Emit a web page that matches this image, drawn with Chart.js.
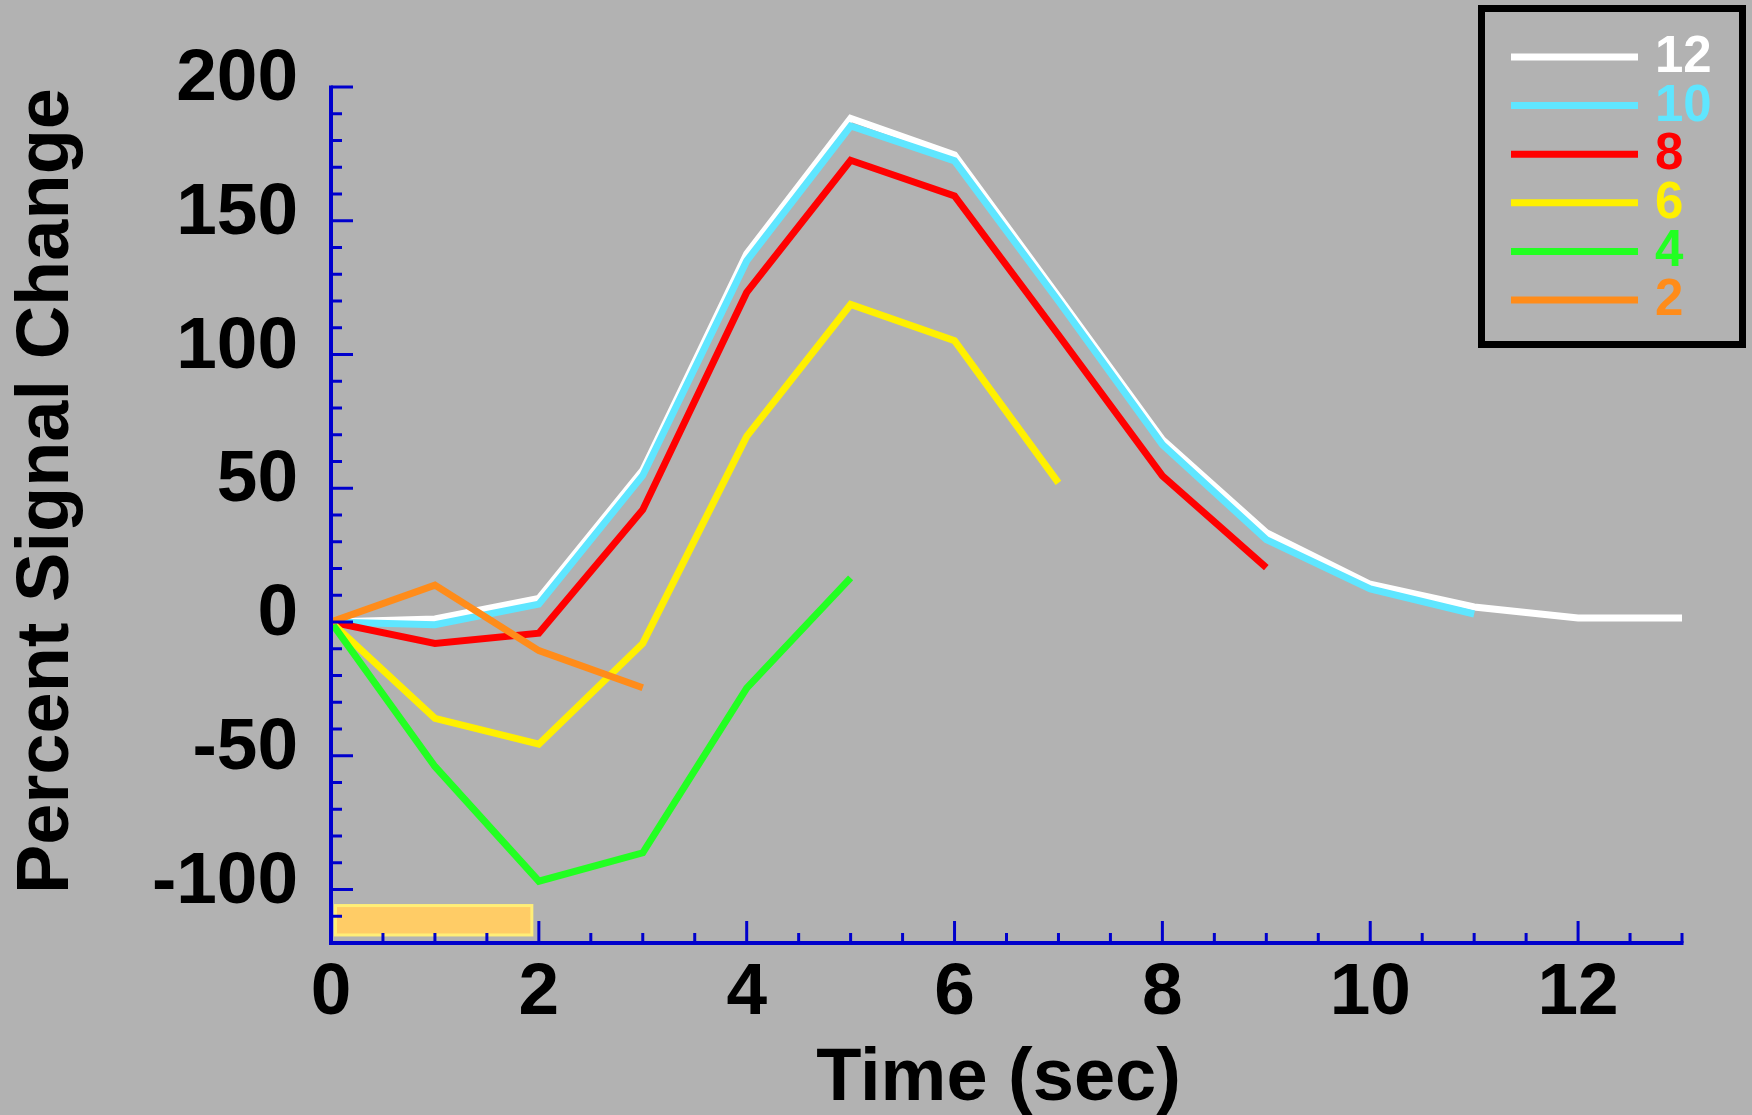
<!DOCTYPE html>
<html>
<head>
<meta charset="utf-8">
<title>Percent Signal Change</title>
<script src="https://cdn.jsdelivr.net/npm/chart.js@4.4.1/dist/chart.umd.min.js"></script>
<style>
  html, body { margin: 0; padding: 0; background: #b2b2b2; }
  #wrap { position: relative; width: 1752px; height: 1115px; }
  canvas { display: block; }
</style>
</head>
<body>
<div id="wrap"><canvas id="c" width="1752" height="1115"></canvas></div>
<script>
// Sample times (seconds)
const timeSec = [0, 1, 2, 3, 4, 5, 6, 7, 8, 9, 10, 11, 12, 13];

// Response curves, one per condition (percent signal change)
const dur12 = [0, 1.1, 8.8, 56.7, 137.6, 188.3, 174.6, 121.6, 68.2, 33.4, 14.1, 5.6, 1.5, 1.5];
const dur10 = [0, -1.0, 6.7, 54.8, 135.0, 185.4, 172.4, 120.0, 66.3, 30.8, 12.4, 3.0];
const dur8  = [0, -8.0, -4.2, 42.0, 123.2, 172.6, 159.3, 107.3, 54.6, 20.3];
const dur6  = [0, -36.0, -45.7, -8.0, 69.4, 118.7, 105.2, 52.0];
const dur4  = [0, -54.0, -96.9, -86.3, -24.7, 16.5];
const dur2  = [0, 13.8, -10.7, -24.6];

const seriesNames  = ['12', '10', '8', '6', '4', '2'];
const seriesValues = [dur12, dur10, dur8, dur6, dur4, dur2];
const seriesColors = ['#ffffff', '#5fe6ff', '#ff0000', '#fff000', '#22ff22', '#ff8c1a'];

// Stimulus period (seconds) and the band it is drawn in (percent units)
const stimWindow = [0, 2];
const stimBand = [-106, -117];

// Labelled tick values
const xLabelValues = [0, 2, 4, 6, 8, 10, 12];
const yLabelValues = [-100, -50, 0, 50, 100, 150, 200];

const xTitle = 'Time (sec)';
const yTitle = 'Percent Signal Change';

const FONT = "'Liberation Sans', Arial, Helvetica, sans-serif";
const AXIS_BLUE = '#0000cc';

// Shorter curves are drawn on top of longer ones
const datasets = seriesNames.map((name, i) => ({
  label: name,
  data: seriesValues[i].map((v, k) => ({ x: timeSec[k], y: v })),
  borderColor: seriesColors[i],
  backgroundColor: seriesColors[i],
  borderWidth: 7,
  fill: false,
  order: seriesNames.length - i
}));

function seg(ctx, x0, y0, x1, y1) {
  ctx.beginPath();
  ctx.moveTo(x0, y0);
  ctx.lineTo(x1, y1);
  ctx.stroke();
}

// Stimulus bar, blue axes with inward ticks, legend box and axis titles
const decor = {
  id: 'decor',
  afterDatasetsDraw(chart) {
    const { ctx, chartArea: a } = chart;
    const x = chart.scales.x, y = chart.scales.y;
    ctx.save();

    const sx0 = x.getPixelForValue(stimWindow[0]) + 4.5;
    const sx1 = x.getPixelForValue(stimWindow[1]) - 7;
    const sy0 = y.getPixelForValue(stimBand[0]);
    const sy1 = y.getPixelForValue(stimBand[1]);
    ctx.fillStyle = '#ffcc66';
    ctx.fillRect(sx0, sy0, sx1 - sx0, sy1 - sy0);
    ctx.strokeStyle = '#ffee77';
    ctx.lineWidth = 3;
    ctx.strokeRect(sx0, sy0, sx1 - sx0, sy1 - sy0);

    ctx.strokeStyle = AXIS_BLUE;
    ctx.lineCap = 'butt';
    ctx.lineWidth = 3;
    y.ticks.forEach(t => {
      if (t.value <= y.min) return;
      const py = y.getPixelForValue(t.value);
      const len = t.value % 50 === 0 ? 22 : 11;
      seg(ctx, a.left, py, a.left + len, py);
    });
    x.ticks.forEach(t => {
      if (t.value <= x.min) return;
      const px = x.getPixelForValue(t.value);
      const len = t.value % 2 === 0 ? 22 : 10;
      seg(ctx, px, a.bottom, px, a.bottom - len);
    });
    ctx.lineWidth = 4;
    seg(ctx, a.left, a.top - 1.5, a.left, a.bottom + 2);
    seg(ctx, a.left - 2, a.bottom, a.right + 1.5, a.bottom);
    ctx.restore();
  },
  afterDraw(chart) {
    const { ctx, chartArea: a } = chart;
    ctx.save();

    // legend
    ctx.strokeStyle = '#000000';
    ctx.lineWidth = 7;
    ctx.strokeRect(1481.5, 8.5, 261, 336);
    ctx.font = 'bold 51px ' + FONT;
    ctx.textAlign = 'left';
    ctx.textBaseline = 'middle';
    chart.data.datasets.forEach((d, i) => {
      const ly = 57 + i * 48.6;
      ctx.strokeStyle = d.borderColor;
      ctx.lineWidth = 7;
      ctx.lineCap = 'butt';
      seg(ctx, 1511, ly, 1638, ly);
      ctx.fillStyle = d.borderColor;
      ctx.fillText(d.label, 1655, ly + 1);
    });

    // axis titles
    ctx.fillStyle = '#000000';
    ctx.font = 'bold 74px ' + FONT;
    ctx.textAlign = 'center';
    ctx.textBaseline = 'alphabetic';
    ctx.fillText(xTitle, (a.left + a.right) / 2 - 8, 1100);

    ctx.translate(68, (a.top + a.bottom) / 2 - 24);
    ctx.rotate(-Math.PI / 2);
    ctx.fillText(yTitle, 0, 0);
    ctx.restore();
  }
};

const tickFont = { family: FONT, size: 73, weight: 'bold', lineHeight: 1 };

new Chart(document.getElementById('c'), {
  type: 'line',
  data: { datasets },
  options: {
    responsive: false,
    animation: false,
    devicePixelRatio: 1,
    layout: { padding: { top: 87, right: 70, left: 0, bottom: 0 } },
    plugins: { legend: { display: false }, tooltip: { enabled: false } },
    elements: {
      point: { radius: 0, hoverRadius: 0 },
      line: { tension: 0, borderCapStyle: 'butt', borderJoinStyle: 'miter' }
    },
    scales: {
      x: {
        type: 'linear',
        min: 0,
        max: 13,
        grid: { display: false, drawTicks: false },
        border: { display: false },
        ticks: {
          stepSize: 0.5,
          autoSkip: false,
          maxRotation: 0,
          minRotation: 0,
          padding: 14,
          color: '#000000',
          font: tickFont,
          callback: v => xLabelValues.includes(v) ? String(v) : ''
        },
        afterFit: s => { s.height = 172; }
      },
      y: {
        type: 'linear',
        min: -120,
        max: 200,
        grid: { display: false, drawTicks: false },
        border: { display: false },
        ticks: {
          stepSize: 10,
          autoSkip: false,
          padding: 33,
          labelOffset: -7,
          color: '#000000',
          font: tickFont,
          callback: v => yLabelValues.includes(v) ? String(v) : ''
        },
        afterFit: s => { s.width = 331; }
      }
    }
  },
  plugins: [decor]
});
</script>
</body>
</html>
